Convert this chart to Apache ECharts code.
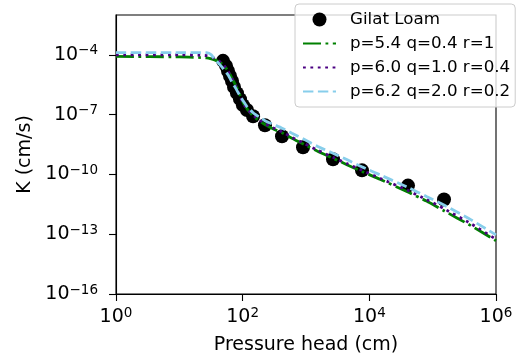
<!DOCTYPE html>
<html>
<head>
<meta charset="utf-8">
<script src="https://cdn.jsdelivr.net/npm/echarts@6/dist/echarts.min.js"></script>
<style>
  html, body { margin: 0; padding: 0; background: #fff; }
  #chart { width: 519px; height: 360px; }
</style>
</head>
<body>
<div id="chart"></div>
<script>
// measured points (pressure head in cm, K in cm/s)
const obsH = [48.9, 54.6, 58.7, 63.1, 67.9, 73.0, 81.4, 90.8, 101, 117, 146, 225, 418, 897, 2670, 7660, 40800, 151000];
const obsK = [5.0e-5, 2.8e-5, 1.55e-5, 8.7e-6, 4.9e-6, 2.45e-6, 1.2e-6, 6.0e-7, 3.0e-7, 1.7e-7, 8.3e-8, 2.95e-8, 8.3e-9, 2.3e-9, 5.8e-10, 1.6e-10, 2.75e-11, 5.5e-12];

// pressure heads at which the fitted curves were read
const fitH = [1, 10, 20, 27, 32, 36, 42, 47, 53, 59, 65, 70, 77, 84, 92, 101, 110, 121, 138, 156,
  190, 225, 300, 418, 600, 930, 1500, 2670, 4500, 7660, 15000, 42300, 80000, 151000, 400000, 1e6];

const fitA = [8.3e-5, 7.9e-5, 7.4e-5, 7.1e-5, 6.3e-5, 5.6e-5, 4.5e-5, 3.5e-5, 2.45e-5, 1.55e-5,
  8.7e-6, 5.5e-6, 3.1e-6, 1.74e-6, 8.5e-7, 4.3e-7, 2.7e-7, 1.7e-7, 1.05e-7, 7.1e-8,
  4.5e-8, 3.2e-8, 1.95e-8, 1.23e-8, 6.5e-9, 3.2e-9, 1.5e-9, 6.5e-10, 3.0e-10, 1.4e-10,
  5.6e-11, 1.23e-11, 4.6e-12, 1.5e-12, 2.7e-13, 4.7e-14];
const fitB = [1.0e-4, 1.0e-4, 9.6e-5, 9.1e-5, 7.9e-5, 6.6e-5, 5.0e-5, 3.7e-5, 2.45e-5, 1.48e-5,
  8.3e-6, 5.1e-6, 2.9e-6, 1.5e-6, 7.6e-7, 4.0e-7, 2.5e-7, 1.7e-7, 1.12e-7, 7.9e-8,
  5.0e-8, 3.5e-8, 2.2e-8, 1.38e-8, 7.2e-9, 3.6e-9, 1.7e-9, 7.2e-10, 3.4e-10, 1.6e-10,
  6.3e-11, 1.48e-11, 5.5e-12, 1.9e-12, 3.4e-13, 5.6e-14];
const fitC = [1.3e-4, 1.3e-4, 1.3e-4, 1.28e-4, 1.0e-4, 5.9e-5, 3.7e-5, 2.45e-5, 1.55e-5, 9.8e-6,
  5.5e-6, 3.6e-6, 2.2e-6, 1.35e-6, 8.1e-7, 5.1e-7, 3.4e-7, 2.2e-7, 1.5e-7, 1.05e-7,
  7.1e-8, 5.0e-8, 3.3e-8, 2.1e-8, 1.17e-8, 5.8e-9, 2.6e-9, 1.15e-9, 5.4e-10, 2.4e-10,
  9.3e-11, 2.1e-11, 7.8e-12, 2.9e-12, 5.4e-13, 9.3e-14];

const seriesNames = ["Gilat Loam", "p=5.4 q=0.4 r=1", "p=6.0 q=1.0 r=0.4", "p=6.2 q=2.0 r=0.2"];
const xTicks = [1, 1e2, 1e4, 1e6];
const yTicks = [1e-16, 1e-13, 1e-10, 1e-7, 1e-4];

const font = "DejaVu Sans";
const zip = (xs, ys) => xs.map((x, i) => [x, ys[i]]);
const powLabel = (v) => {
  const e = Math.round(Math.log10(v));
  return "{b|10}{s|" + String(e).replace("-", "\u2212") + "}";
};
const labelRich = {
  b: { fontFamily: font, fontSize: 19, color: "#000", lineHeight: 22 },
  s: { fontFamily: font, fontSize: 13.5, color: "#000", verticalAlign: "top", lineHeight: 14 },
};

const chart = echarts.init(document.getElementById("chart"));
const lw = 2.8;
const noSymbol = { opacity: 0 };

chart.setOption({
  backgroundColor: "#fff",
  animation: false,
  grid: {
    left: 116, right: 23, top: 15, bottom: 66,
    show: true, borderColor: "#000", borderWidth: 1.1, backgroundColor: "transparent",
  },
  legend: {
    orient: "vertical",
    left: 295,
    top: 4,
    padding: [7, 5, 7, 7],
    itemGap: 7,
    itemWidth: 33,
    itemHeight: 14,
    backgroundColor: "rgba(255,255,255,0.8)",
    borderColor: "#cccccc",
    borderWidth: 1,
    borderRadius: 4,
    textStyle: { fontFamily: font, fontSize: 16.7, color: "#000", padding: [0, 0, 0, 9] },
    data: [
      { name: seriesNames[0], icon: "circle" },
      { name: seriesNames[1], itemStyle: noSymbol },
      { name: seriesNames[2], itemStyle: noSymbol },
      { name: seriesNames[3], itemStyle: noSymbol },
    ],
  },
  xAxis: {
    type: "log",
    logBase: 10,
    min: 1,
    max: 1e6,
    name: "Pressure head (cm)",
    nameLocation: "middle",
    nameGap: 42,
    nameTextStyle: { fontFamily: font, fontSize: 19, color: "#000", verticalAlign: "top" },
    axisLine: { show: true, lineStyle: { color: "#000", width: 1.1 } },
    axisTick: { show: true, length: 7, lineStyle: { color: "#000", width: 1.1 }, customValues: xTicks },
    minorTick: { show: false },
    splitLine: { show: false },
    axisLabel: { margin: 12, formatter: powLabel, rich: labelRich, customValues: xTicks },
  },
  yAxis: {
    type: "log",
    logBase: 10,
    min: 1e-16,
    max: 1e-2,
    name: "K (cm/s)",
    nameLocation: "middle",
    nameGap: 81,
    nameTextStyle: { fontFamily: font, fontSize: 19, color: "#000" },
    axisLine: { show: true, lineStyle: { color: "#000", width: 1.1 } },
    axisTick: { show: true, length: 7, lineStyle: { color: "#000", width: 1.1 }, customValues: yTicks },
    minorTick: { show: false },
    splitLine: { show: false },
    axisLabel: { margin: 18, formatter: powLabel, rich: labelRich, customValues: yTicks },
  },
  series: [
    {
      name: seriesNames[0],
      type: "scatter",
      data: zip(obsH, obsK),
      symbol: "circle",
      symbolSize: 14,
      itemStyle: { color: "#000", opacity: 1 },
    },
    {
      name: seriesNames[1],
      type: "line",
      data: zip(fitH, fitA),
      symbol: "none",
      smooth: 0.2,
      itemStyle: { color: "#008000" },
      lineStyle: { color: "#008000", width: lw, type: [18, 4.5, 2.8, 4.5] },
    },
    {
      name: seriesNames[2],
      type: "line",
      data: zip(fitH, fitB),
      symbol: "none",
      smooth: 0.2,
      itemStyle: { color: "#4b0082" },
      lineStyle: { color: "#4b0082", width: lw, type: [2.8, 4.6] },
    },
    {
      name: seriesNames[3],
      type: "line",
      data: zip(fitH, fitC),
      symbol: "none",
      smooth: 0.2,
      itemStyle: { color: "#87ceeb" },
      lineStyle: { color: "#87ceeb", width: lw, type: [10.4, 4.5] },
    },
  ],
});
</script>
</body>
</html>
